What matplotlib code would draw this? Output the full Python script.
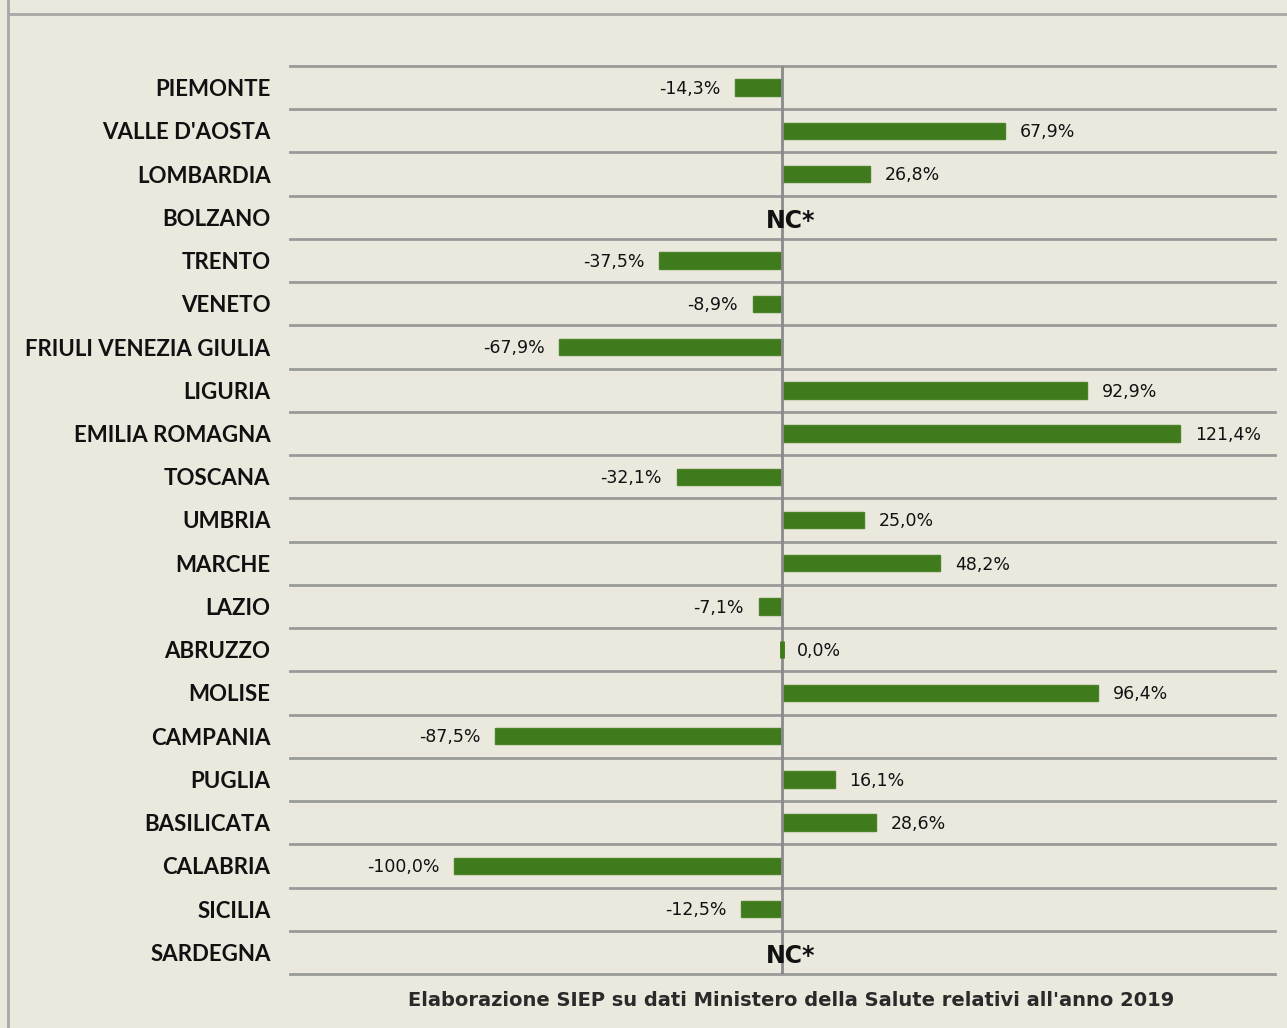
import numpy as np
import matplotlib
matplotlib.use("Agg")
import matplotlib.pyplot as plt
from matplotlib.lines import Line2D

regions = ["PIEMONTE", "VALLE D'AOSTA", "LOMBARDIA", "BOLZANO", "TRENTO", "VENETO",
           "FRIULI VENEZIA GIULIA", "LIGURIA", "EMILIA ROMAGNA", "TOSCANA", "UMBRIA",
           "MARCHE", "LAZIO", "ABRUZZO", "MOLISE", "CAMPANIA", "PUGLIA", "BASILICATA",
           "CALABRIA", "SICILIA", "SARDEGNA"]
# None = non calcolabile (NC*)
values = [-14.3, 67.9, 26.8, None, -37.5, -8.9, -67.9, 92.9, 121.4, -32.1, 25.0,
          48.2, -7.1, 0.0, 96.4, -87.5, 16.1, 28.6, -100.0, -12.5, None]
source = "Elaborazione SIEP su dati Ministero della Salute relativi all'anno 2019"

BG = "#ebe8de"
GREEN = "#3f7a1c"
GRID = "#9a9a9a"

fig = plt.figure(figsize=(12.87, 10.28), dpi=100, facecolor=BG)
ax = fig.add_axes([290 / 1287, 1 - 974 / 1028, (1275 - 290) / 1287, (974 - 66) / 1028])
ax.set_facecolor(BG)

n = len(regions)
y = np.arange(n)
for i, v in enumerate(values):
    if v is None:
        ax.text(2.5, i + 0.08, "NC*", ha="center", va="center", fontsize=17,
                fontweight="bold", color="#111111", zorder=8,
                family=["Liberation Sans Narrow", "DejaVu Sans"])
        continue
    if v == 0:
        # barra nulla: resta solo un filo verde
        ax.barh(i, v, height=0.38, color=GREEN, edgecolor=GREEN, linewidth=3.5, zorder=7)
    else:
        ax.barh(i, v, height=0.38, color=GREEN, edgecolor="#4a8428", linewidth=1, zorder=3)
    lab = ("%.1f%%" % v).replace(".", ",")
    if v < 0:
        ax.text(v - 4.5, i + 0.03, lab, ha="right", va="center", fontsize=12.5, color="#111111")
    else:
        ax.text(v + 4.5, i + 0.03, lab, ha="left", va="center", fontsize=12.5, color="#111111")

for k in range(n + 1):
    ax.axhline(k - 0.5, color=GRID, lw=2, zorder=1, clip_on=False)
ax.axvline(0, color="#8a8a8a", lw=2, zorder=6)

ax.set_xlim(-150, 150.3)
ax.set_ylim(n - 0.5, -0.5)
ax.set_yticks(y)
ax.set_yticklabels(regions, fontsize=16, fontweight="bold", color="#111111",
                   family=["Lato", "DejaVu Sans"])
ax.tick_params(axis="y", length=0, pad=14)
ax.set_xticks([])
for s in ax.spines.values():
    s.set_visible(False)

# cornice in alto e a sinistra
fig.add_artist(Line2D([8 / 1287, 1], [1 - 14 / 1028, 1 - 14 / 1028], color="#a8a8a8", lw=2,
                      transform=fig.transFigure))
fig.add_artist(Line2D([8 / 1287, 8 / 1287], [0, 1], color="#a8a8a8", lw=2,
                      transform=fig.transFigure))

fig.text(791 / 1287, 1 - 1000 / 1028, source, ha="center", va="center", fontsize=14,
         fontweight="bold", color="#2a2a2a", family=["Liberation Sans Narrow", "DejaVu Sans"])

fig.savefig("out.png", dpi=100, facecolor=BG)
